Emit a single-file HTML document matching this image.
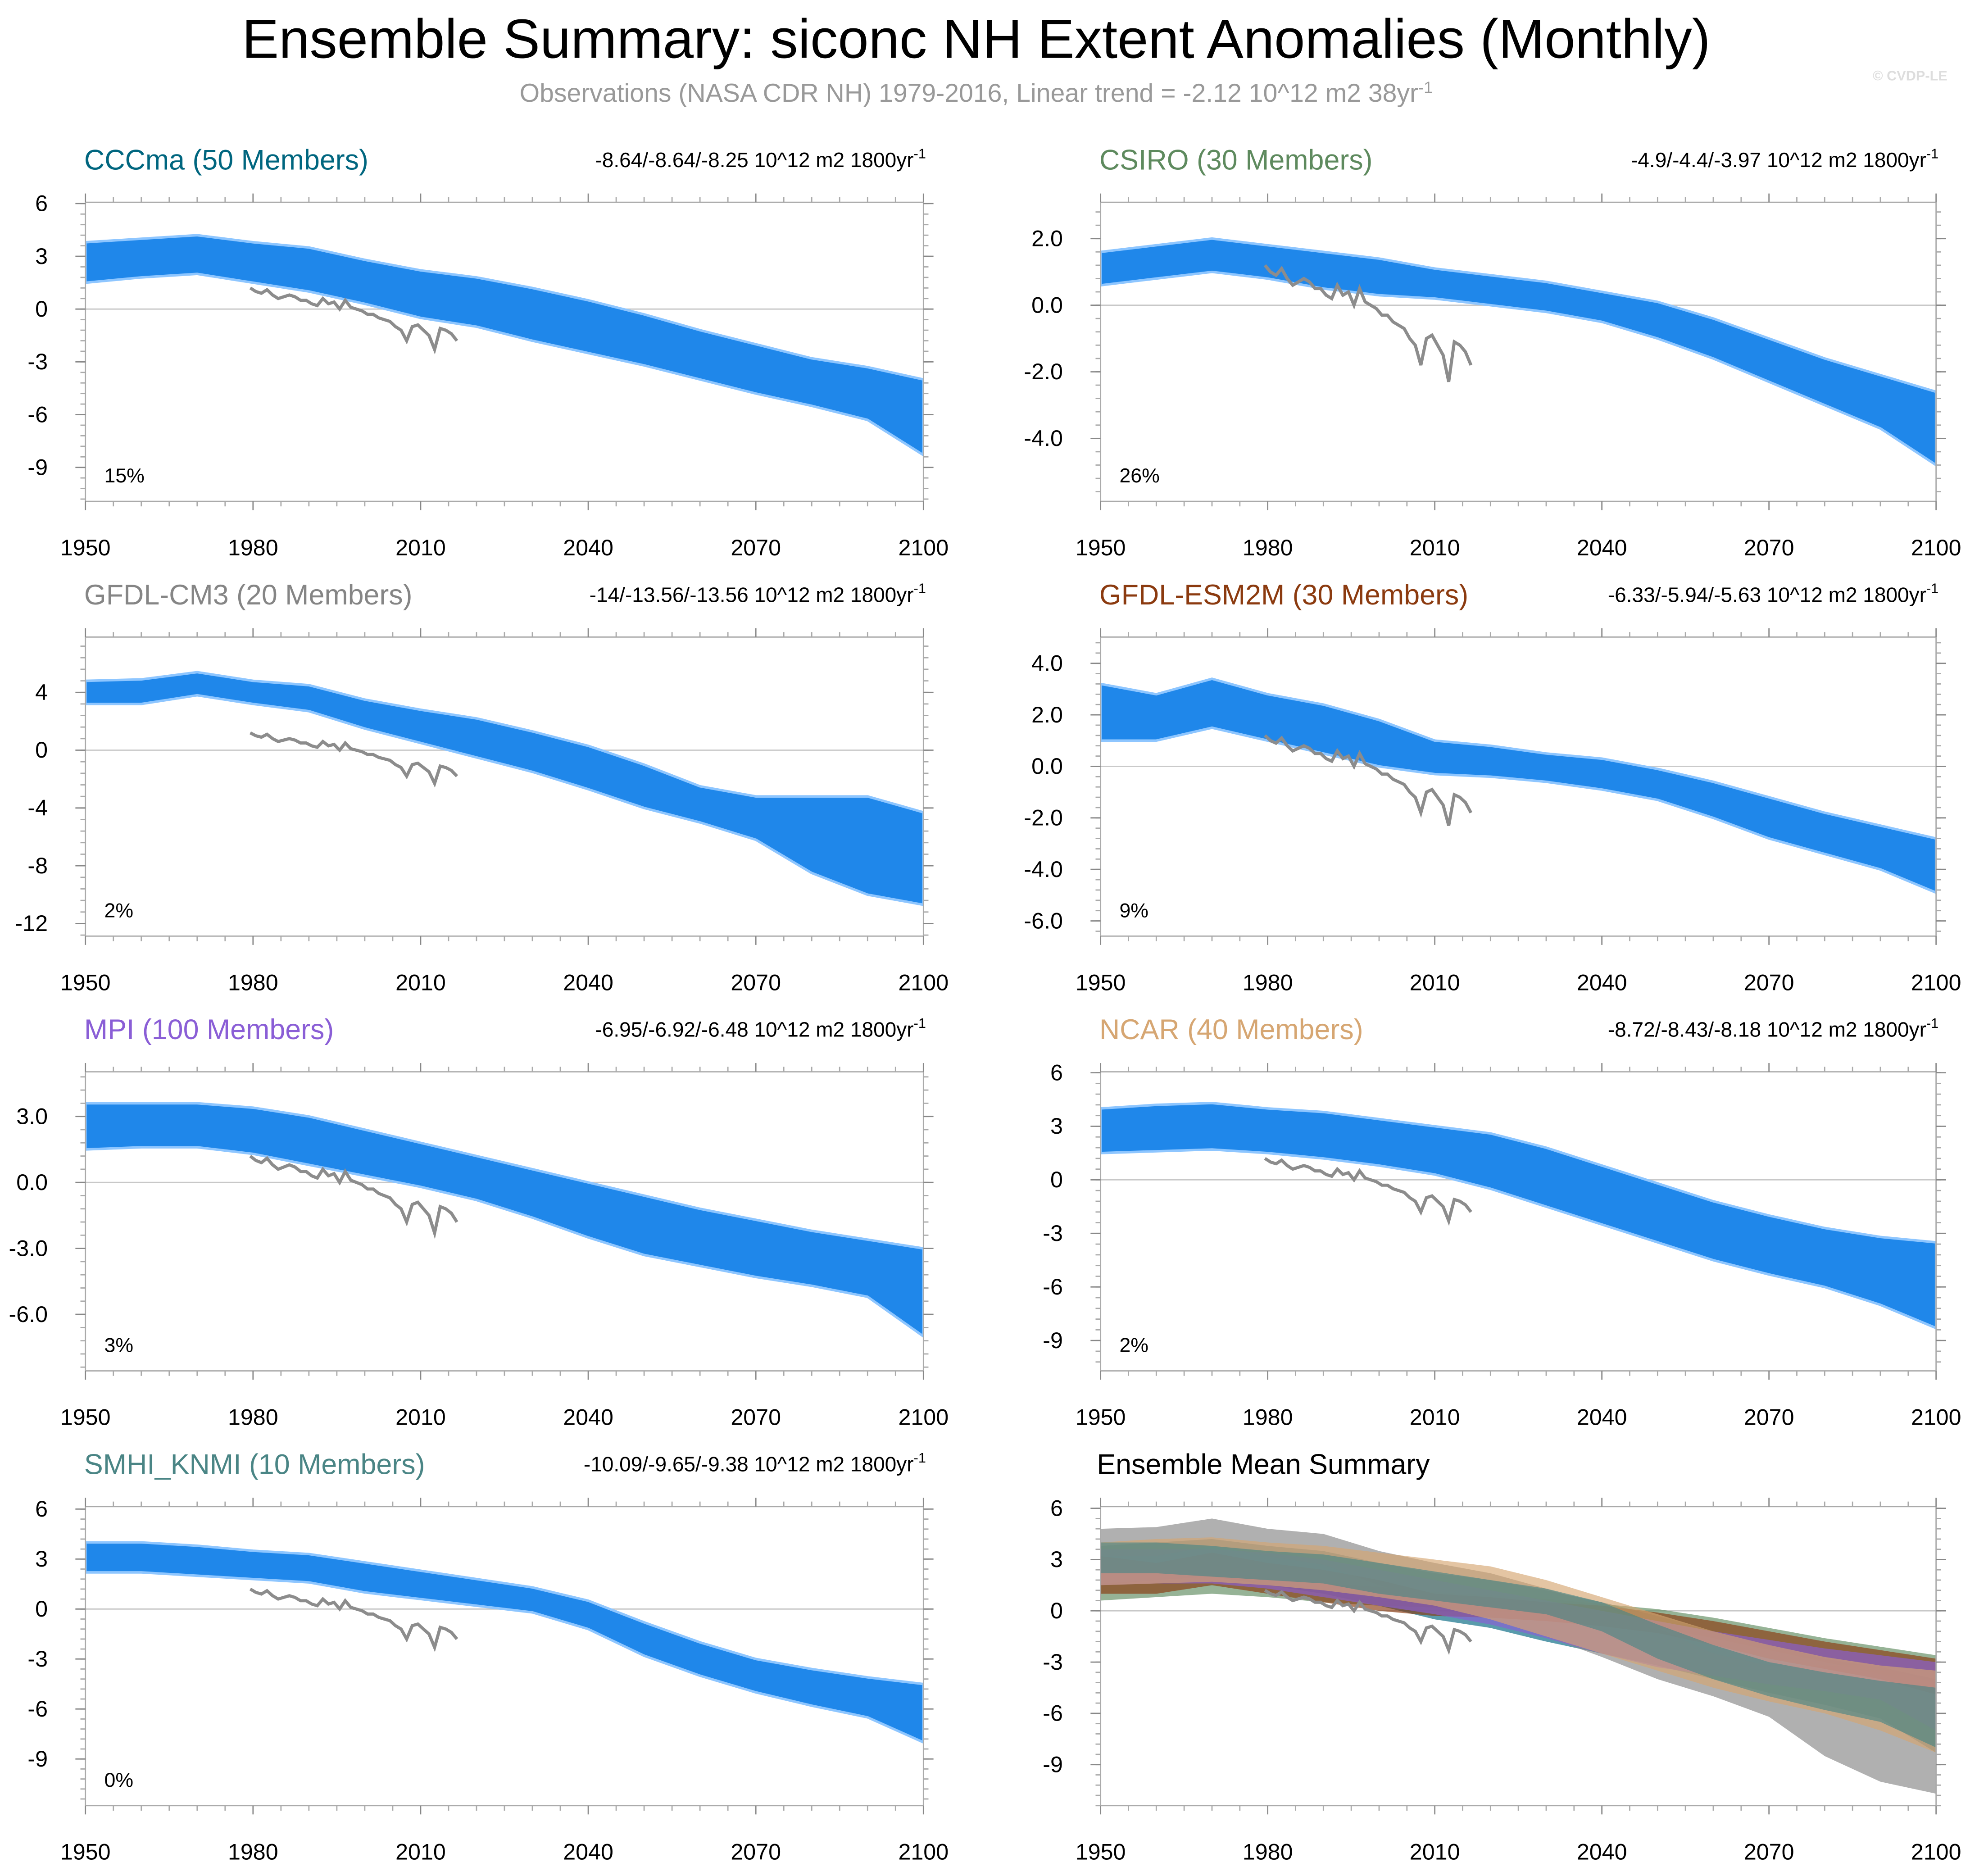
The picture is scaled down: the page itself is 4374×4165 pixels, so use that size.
<!DOCTYPE html>
<html><head><meta charset="utf-8">
<style>html,body{margin:0;padding:0;background:#fff}svg{display:block}</style>
</head><body>
<svg id="chart" xmlns="http://www.w3.org/2000/svg" width="4374" height="4165" viewBox="0 0 1568 1493" preserveAspectRatio="none" font-family="'Liberation Sans', sans-serif">
<rect width="1568" height="1493" fill="#fff"/>
<text x="777" y="46" text-anchor="middle" font-size="44">Ensemble Summary: siconc NH Extent Anomalies (Monthly)</text>
<text x="777" y="81" text-anchor="middle" font-size="20.5" fill="#999">Observations (NASA CDR NH) 1979-2016, Linear trend = -2.12 10^12 m2 38yr<tspan dy="-7" font-size="13">-1</tspan></text>
<text x="1550" y="64" text-anchor="end" font-size="11" fill="#ddd" font-weight="bold">© CVDP-LE</text>
</svg>
<script>
const years=[1950,1960,1970,1980,1990,2000,2010,2020,2030,2040,2050,2060,2070,2080,2090,2100];
const cccmaHi=[3.8,4.0,4.2,3.8,3.5,2.8,2.2,1.8,1.2,0.5,-0.3,-1.2,-2.0,-2.8,-3.3,-4.0];
const cccmaLo=[1.5,1.8,2.0,1.5,1.0,0.3,-0.5,-1.0,-1.8,-2.5,-3.2,-4.0,-4.8,-5.5,-6.3,-8.3];
const csiroHi=[1.6,1.8,2.0,1.8,1.6,1.4,1.1,0.9,0.7,0.4,0.1,-0.4,-1.0,-1.6,-2.1,-2.6];
const csiroLo=[0.6,0.8,1.0,0.8,0.5,0.3,0.2,0.0,-0.2,-0.5,-1.0,-1.6,-2.3,-3.0,-3.7,-4.8];
const cm3Hi=[4.8,4.9,5.4,4.8,4.5,3.5,2.8,2.2,1.3,0.3,-1.0,-2.5,-3.2,-3.2,-3.2,-4.3];
const cm3Lo=[3.2,3.2,3.8,3.2,2.7,1.5,0.5,-0.5,-1.5,-2.7,-4.0,-5.0,-6.2,-8.5,-10.0,-10.7];
const esmHi=[3.2,2.8,3.4,2.8,2.4,1.8,1.0,0.8,0.5,0.3,-0.1,-0.6,-1.2,-1.8,-2.3,-2.8];
const esmLo=[1.0,1.0,1.5,1.0,0.5,0.0,-0.3,-0.4,-0.6,-0.9,-1.3,-2.0,-2.8,-3.4,-4.0,-4.9];
const mpiHi=[3.6,3.6,3.6,3.4,3.0,2.4,1.8,1.2,0.6,0.0,-0.6,-1.2,-1.7,-2.2,-2.6,-3.0];
const mpiLo=[1.5,1.6,1.6,1.3,0.8,0.3,-0.2,-0.8,-1.6,-2.5,-3.3,-3.8,-4.3,-4.7,-5.2,-7.0];
const ncarHi=[4.0,4.2,4.3,4.0,3.8,3.4,3.0,2.6,1.8,0.8,-0.2,-1.2,-2.0,-2.7,-3.2,-3.5];
const ncarLo=[1.5,1.6,1.7,1.5,1.2,0.8,0.3,-0.5,-1.5,-2.5,-3.5,-4.5,-5.3,-6.0,-7.0,-8.3];
const smhiHi=[4.0,4.0,3.8,3.5,3.3,2.8,2.3,1.8,1.3,0.5,-0.8,-2.0,-3.0,-3.6,-4.1,-4.5];
const smhiLo=[2.2,2.2,2.0,1.8,1.6,1.0,0.6,0.2,-0.2,-1.2,-2.8,-4.0,-5.0,-5.8,-6.5,-8.0];
const obsYears=[1979,1980,1981,1982,1983,1984,1985,1986,1987,1988,1989,1990,1991,1992,1993,1994,1995,1996,1997,1998,1999,2000,2001,2002,2003,2004,2005,2006,2007,2008,2009,2010,2011,2012,2013,2014,2015,2016];
const obsVals=[1.2,1.0,0.9,1.1,0.8,0.6,0.7,0.8,0.7,0.5,0.5,0.3,0.2,0.6,0.3,0.4,0.0,0.5,0.1,0.0,-0.1,-0.3,-0.3,-0.5,-0.6,-0.7,-1.0,-1.2,-1.8,-1.0,-0.9,-1.2,-1.5,-2.3,-1.1,-1.2,-1.4,-1.8];
const xTicks=[1950,1980,2010,2040,2070,2100];
const ticksA=[6,3,0,-3,-6,-9];
const ticksCSIRO=[2,0,-2,-4];
const ticksCM3=[4,0,-4,-8,-12];
const ticksESM=[4,2,0,-2,-4,-6];
const ticksMPI=[3,0,-3,-6];
const statCCCma="-8.64/-8.64/-8.25", statCSIRO="-4.9/-4.4/-3.97", statCM3="-14/-13.56/-13.56",
 statESM="-6.33/-5.94/-5.63", statMPI="-6.95/-6.92/-6.48", statNCAR="-8.72/-8.43/-8.18", statSMHI="-10.09/-9.65/-9.38";

const NS="http://www.w3.org/2000/svg";
const svg=document.getElementById('chart');
function mk(tag,attrs,parent){const e=document.createElementNS(NS,tag);for(const k in attrs)e.setAttribute(k,attrs[k]);(parent||svg).appendChild(e);return e;}
const BLUE="#1f87ea";
const models=[
 {key:'cccma',title:'CCCma (50 Members)',color:'#00667f',hi:cccmaHi,lo:cccmaLo,stat:statCCCma,pct:'15%',ymin:-10.93,ymax:6.07,ticks:ticksA,dec:0,col:0,row:0},
 {key:'csiro',title:'CSIRO (30 Members)',color:'#5e8a5e',hi:csiroHi,lo:csiroLo,stat:statCSIRO,pct:'26%',ymin:-5.89,ymax:3.09,ticks:ticksCSIRO,dec:1,col:1,row:0},
 {key:'gfdl-cm3',title:'GFDL-CM3 (20 Members)',color:'#858585',hi:cm3Hi,lo:cm3Lo,stat:statCM3,pct:'2%',ymin:-12.87,ymax:7.83,ticks:ticksCM3,dec:0,col:0,row:1},
 {key:'gfdl-esm2m',title:'GFDL-ESM2M (30 Members)',color:'#8b3a0f',hi:esmHi,lo:esmLo,stat:statESM,pct:'9%',ymin:-6.59,ymax:5.02,ticks:ticksESM,dec:1,col:1,row:1},
 {key:'mpi',title:'MPI (100 Members)',color:'#8a5ed6',hi:mpiHi,lo:mpiLo,stat:statMPI,pct:'3%',ymin:-8.57,ymax:5.03,ticks:ticksMPI,dec:1,col:0,row:2},
 {key:'ncar',title:'NCAR (40 Members)',color:'#d6a672',hi:ncarHi,lo:ncarLo,stat:statNCAR,pct:'2%',ymin:-10.7,ymax:6.05,ticks:ticksA,dec:0,col:1,row:2},
 {key:'smhi-knmi',title:'SMHI_KNMI (10 Members)',color:'#4a8585',hi:smhiHi,lo:smhiLo,stat:statSMHI,pct:'0%',ymin:-11.8,ymax:6.15,ticks:ticksA,dec:0,col:0,row:3}
];
function panel(cfg,drawFn){
 const L=cfg.col?876:68,R=cfg.col?1541:735,T=161+cfg.row*346,B=T+238;
 const g=mk('g',{});
 
 
 const x=v=>L+(v-1950)/150*(R-L);
 const y=v=>T+(cfg.ymax-v)/(cfg.ymax-cfg.ymin)*(B-T);
 const clip=mk('clipPath',{id:'c'+cfg.key},g);mk('rect',{x:L,y:T,width:R-L,height:B-T},clip);
 const z=mk('line',{x1:L,x2:R,y1:y(0),y2:y(0),stroke:'#c8c8c8','stroke-width':1},g);
 
 const inner=mk('g',{'clip-path':'url(#c'+cfg.key+')'},g);
 drawFn(inner,x,y);
 const o=mk('polyline',{points:obsYears.map((yr,i)=>x(yr+0.5)+','+y(obsVals[i])).join(' '),fill:'none',stroke:'#8c8c8c','stroke-width':2.5},inner);
 
 const fr=mk('rect',{x:L,y:T,width:R-L,height:B-T,fill:'none',stroke:'#aaa','stroke-width':1},g);
 
 xTicks.forEach(t=>{
  mk('line',{x1:x(t),x2:x(t),y1:B,y2:B+7,stroke:'#888'},g);
  mk('line',{x1:x(t),x2:x(t),y1:T,y2:T-7,stroke:'#888'},g);
  const tl=mk('text',{x:x(t),y:B+43,'text-anchor':'middle','font-size':18},g);tl.textContent=t;
  
 });
 for(let t=1955;t<2100;t+=5){if((t-1950)%30){mk('line',{x1:x(t),x2:x(t),y1:B,y2:B+4,stroke:'#aaa'},g);mk('line',{x1:x(t),x2:x(t),y1:T,y2:T-4,stroke:'#aaa'},g);}}
 const step=Math.abs(cfg.ticks[0]-cfg.ticks[1]);
 for(let v=cfg.ticks[0]+step;v>cfg.ymin-step;v-=step/5){
  if(v>cfg.ymax||v<cfg.ymin)continue;
  mk('line',{x1:L-4,x2:L,y1:y(v),y2:y(v),stroke:'#aaa'},g);mk('line',{x1:R,x2:R+4,y1:y(v),y2:y(v),stroke:'#aaa'},g);
 }
 cfg.ticks.forEach(t=>{
  mk('line',{x1:L-8,x2:L,y1:y(t),y2:y(t),stroke:'#888'},g);mk('line',{x1:R,x2:R+8,y1:y(t),y2:y(t),stroke:'#888'},g);
  const tl=mk('text',{x:L-30,y:y(t)+6,'text-anchor':'end','font-size':18},g);tl.textContent=t.toFixed(cfg.dec);
  
 });
 return {L,R,T,B,g};
}
models.forEach(m=>{
 const p=panel(m,(inner,x,y)=>{
  const pts=years.map((yr,i)=>x(yr)+','+y(m.hi[i])).concat(years.slice().reverse().map((yr,i)=>x(yr)+','+y(m.lo[years.length-1-i])));
  const poly=mk('polygon',{points:pts.join(' '),fill:BLUE,stroke:'#8ec6ff','stroke-width':2},inner);
  
 });
 const t=mk('text',{x:p.L-1,y:p.T-26,'font-size':22.5,fill:m.color},p.g);t.textContent=m.title;
 
 const s=mk('text',{x:p.R+2,y:p.T-28,'text-anchor':'end','font-size':16.5},p.g);
 s.innerHTML=m.stat+' 10^12 m2 1800yr<tspan dy="-7" font-size="11">-1</tspan>';
 
 const pc=mk('text',{x:p.L+15,y:p.B-15,'font-size':16},p.g);pc.textContent=m.pct;
 
});
const sumCfg={key:'ensemble-mean-summary',ymin:-11.4,ymax:6.1,ticks:ticksA,dec:0,col:1,row:3};
const ps=panel(sumCfg,(inner,x,y)=>{
 models.forEach(m=>{
  const pts=years.map((yr,i)=>x(yr)+','+y(m.hi[i])).concat(years.slice().reverse().map((yr,i)=>x(yr)+','+y(m.lo[years.length-1-i])));
  const poly=mk('polygon',{points:pts.join(' '),fill:m.color,'fill-opacity':0.65},inner);
  
 });
});
const st=mk('text',{x:ps.L-3,y:ps.T-26,'font-size':22.5},ps.g);st.textContent='Ensemble Mean Summary';

</script>
</body></html>
